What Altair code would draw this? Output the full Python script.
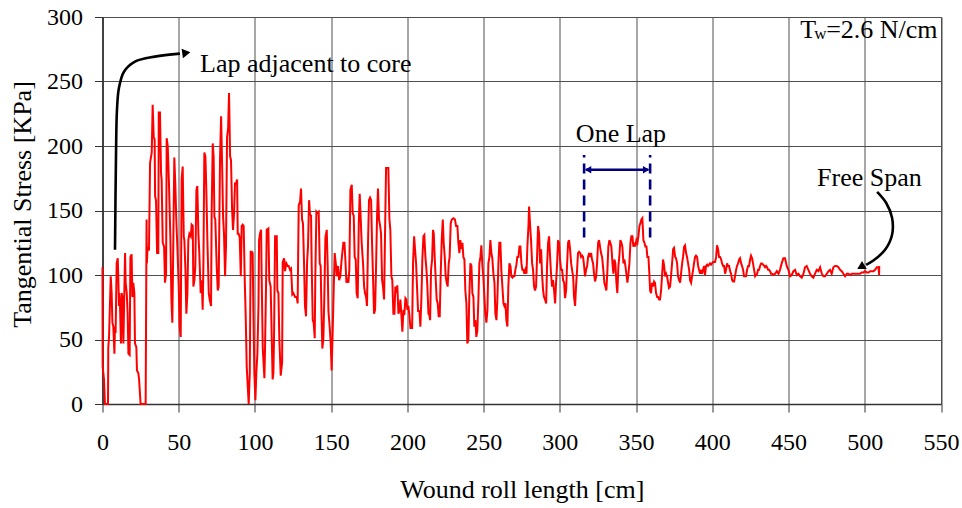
import altair as alt
import pandas as pd

# Tangential stress along the wound roll: (length [cm], stress [KPa]) pairs
STRESS_0_104 = [
    (0.0, 106), (0.1, 29), (1.0, 19), (1.6, 0), (3.6, 0), (3.8, 44), (4.3, 52), (5.4, 99),
    (6.0, 86), (6.5, 63), (7.1, 60), (7.8, 39), (8.2, 60), (8.6, 55), (9.3, 109), (10.0, 113),
    (10.4, 96), (10.8, 76), (11.0, 86), (11.5, 76), (12.1, 47), (12.6, 86), (13.0, 83),
    (13.7, 47), (14.3, 86), (14.8, 117), (15.2, 94), (15.9, 86), (16.5, 70), (17.0, 39),
    (17.8, 38), (18.3, 114), (19.1, 116), (19.6, 83), (20.2, 94), (20.9, 86), (21.3, 47),
    (22.2, 44), (22.6, 26), (23.5, 24), (24.0, 19), (25.0, 0), (28.3, 0), (28.9, 143),
    (29.1, 109), (29.6, 122), (30.5, 119), (31.2, 187), (32.3, 195), (32.9, 232), (33.6, 207),
    (34.2, 205), (34.5, 161), (35.1, 158), (35.8, 117), (36.6, 117), (36.9, 226), (37.7, 226),
    (38.4, 179), (38.8, 174), (39.5, 125), (40.4, 122), (41.0, 94), (41.7, 101), (42.1, 206),
    (42.8, 200), (43.6, 171), (44.5, 130), (45.2, 81), (45.8, 63), (46.5, 130), (47.1, 191),
    (47.8, 169), (48.4, 143), (49.1, 122), (50.0, 91), (50.6, 60), (51.3, 52), (51.9, 174),
    (52.6, 184), (53.3, 130), (53.7, 127), (54.4, 104), (55.0, 70), (55.7, 86), (56.3, 127),
    (57.0, 132), (57.9, 130), (58.5, 139), (59.2, 138), (59.6, 91), (60.3, 96), (60.9, 107),
    (61.6, 166), (62.2, 169), (62.9, 132), (63.5, 117), (64.4, 86), (65.1, 96), (65.7, 73),
    (66.2, 109), (66.8, 195), (67.5, 192), (68.1, 166), (68.8, 127), (69.7, 86), (70.3, 81),
    (71.2, 76), (71.6, 148), (72.3, 202), (72.9, 192), (73.4, 145), (74.0, 143), (74.9, 107),
    (75.6, 88), (76.2, 91), (77.1, 191), (77.8, 223), (78.4, 189), (79.1, 145), (79.7, 132),
    (80.4, 99), (81.0, 122), (81.7, 207), (82.4, 214), (83.0, 241), (83.7, 192), (84.3, 189),
    (85.0, 151), (85.6, 135), (86.3, 148), (86.9, 171), (87.6, 171), (88.3, 174), (88.7, 132),
    (89.3, 132), (90.0, 129), (90.7, 99), (91.3, 138), (92.0, 139), (92.6, 138), (93.3, 96),
    (93.9, 70), (94.6, 29), (95.3, 13), (95.9, 0), (96.6, 24), (97.2, 118), (97.9, 118),
    (98.5, 117), (99.0, 70), (99.6, 24), (100.3, 3), (100.9, 24), (101.6, 39), (102.3, 76),
    (102.7, 127), (103.3, 132), (104.0, 135),
]

STRESS_104_217 = [
    (104.4, 99), (105.1, 44), (106.2, 20), (106.6, 42), (107.3, 94), (107.7, 135), (108.8, 136),
    (109.4, 96), (110.3, 91), (111.0, 52), (111.6, 19), (112.1, 24), (112.5, 50), (113.2, 130),
    (114.3, 130), (114.7, 88), (115.4, 86), (116.0, 50), (116.9, 22), (117.8, 32), (118.2, 110),
    (119.1, 113), (119.7, 103), (120.6, 109), (121.5, 107), (122.1, 107), (123.0, 104),
    (123.7, 105), (124.5, 85), (125.2, 86), (126.3, 83), (127.4, 83), (128.0, 78), (128.7, 154),
    (129.6, 157), (130.2, 167), (130.9, 143), (131.5, 140), (132.2, 109), (132.8, 76),
    (133.5, 68), (134.2, 110), (134.8, 122), (135.5, 158), (136.1, 147), (136.8, 146),
    (137.2, 109), (137.9, 65), (138.5, 63), (139.2, 51), (139.6, 99), (140.3, 149), (140.9, 148),
    (141.8, 149), (142.5, 109), (143.1, 107), (143.6, 73), (144.2, 43), (144.9, 51), (145.5, 83),
    (146.2, 129), (147.1, 135), (147.7, 107), (148.2, 72), (149.0, 60), (149.7, 47), (150.3, 26),
    (151.0, 57), (151.7, 91), (152.3, 117), (153.2, 107), (153.6, 99), (154.5, 107), (155.2, 96),
    (156.0, 99), (156.7, 110), (157.3, 117), (158.0, 125), (158.7, 125), (159.3, 112),
    (160.0, 94), (160.6, 96), (161.3, 94), (161.9, 104), (162.6, 166), (163.5, 170), (164.1, 148),
    (164.8, 146), (165.4, 114), (166.1, 112), (166.7, 86), (167.4, 82), (168.1, 140),
    (168.7, 163), (169.4, 143), (170.0, 125), (170.9, 109), (171.6, 91), (172.2, 86), (172.9, 83),
    (173.5, 76), (174.2, 127), (174.8, 158), (175.5, 160), (176.2, 158), (176.8, 125),
    (177.5, 96), (178.1, 70), (178.8, 73), (179.4, 104), (180.1, 146), (180.7, 167), (181.4, 143),
    (182.1, 138), (182.7, 132), (183.4, 96), (184.0, 91), (184.7, 81), (185.3, 130), (186.0, 183),
    (187.5, 183), (188.2, 143), (188.8, 135), (189.5, 99), (190.1, 96), (190.8, 70), (191.5, 70),
    (192.1, 91), (192.8, 86), (193.4, 92), (194.1, 70), (194.7, 72), (195.4, 81), (196.1, 68),
    (196.7, 56), (197.4, 73), (198.0, 69), (198.7, 82), (199.3, 81), (200.0, 73), (200.6, 76),
    (201.3, 69), (202.0, 59), (203.1, 59), (203.7, 109), (204.4, 130), (205.0, 120), (205.7, 109),
    (206.3, 91), (207.0, 72), (207.9, 72), (208.5, 60), (209.2, 83), (209.8, 112), (210.5, 130),
    (211.1, 131), (211.8, 114), (212.5, 104), (213.1, 91), (213.8, 70), (214.4, 69), (214.9, 65),
    (215.5, 104), (216.2, 112), (216.8, 135),
]

STRESS_217_326 = [
    (217.3, 132), (217.9, 114), (218.6, 96), (219.2, 81), (219.9, 78), (220.5, 68), (221.2, 68),
    (221.8, 99), (222.5, 127), (223.2, 143), (223.8, 125), (224.5, 114), (225.1, 99), (225.8, 94),
    (226.4, 91), (227.1, 109), (227.7, 114), (228.4, 140), (229.1, 143), (230.2, 144),
    (231.2, 143), (231.9, 138), (232.8, 138), (233.4, 125), (234.1, 117), (234.7, 127),
    (235.4, 120), (236.1, 125), (236.7, 114), (237.4, 112), (238.0, 88), (238.7, 78), (239.3, 47),
    (240.0, 50), (240.6, 83), (241.3, 109), (242.0, 107), (242.6, 86), (243.3, 83), (243.9, 60),
    (244.6, 65), (245.2, 52), (245.9, 57), (246.6, 83), (247.2, 109), (247.9, 114), (248.5, 123),
    (249.2, 107), (249.8, 99), (250.5, 83), (251.1, 70), (251.8, 63), (252.5, 73), (253.1, 109),
    (253.8, 114), (254.4, 127), (255.1, 117), (255.7, 113), (256.4, 101), (257.1, 94),
    (257.7, 70), (258.4, 65), (259.0, 81), (259.7, 109), (260.3, 125), (261.0, 125), (261.6, 104),
    (262.3, 91), (263.0, 78), (263.6, 76), (264.3, 78), (264.9, 65), (265.6, 60), (266.2, 91),
    (266.9, 109), (267.6, 107), (268.2, 99), (268.9, 98), (269.5, 99), (270.2, 99), (270.8, 104),
    (271.5, 108), (272.1, 114), (272.8, 114), (273.5, 122), (274.1, 122), (274.8, 109),
    (275.4, 104), (276.1, 104), (276.7, 101), (277.4, 104), (278.1, 101), (278.7, 122),
    (279.4, 138), (279.8, 153), (280.5, 138), (281.1, 127), (281.8, 109), (282.4, 104),
    (283.1, 91), (283.7, 88), (284.4, 91), (285.0, 112), (285.7, 138), (286.4, 132), (287.0, 109),
    (287.7, 120), (288.3, 101), (289.0, 88), (289.6, 83), (290.3, 81), (291.0, 78), (291.6, 107),
    (292.3, 125), (292.9, 130), (293.6, 114), (294.2, 101), (294.9, 91), (295.5, 96), (296.2, 88),
    (296.9, 78), (297.5, 94), (298.2, 109), (298.8, 127), (299.5, 125), (300.1, 112),
    (300.8, 104), (301.5, 104), (302.1, 96), (302.8, 94), (303.4, 82), (304.1, 88), (304.7, 107),
    (305.4, 125), (306.0, 127), (306.7, 120), (307.4, 109), (308.0, 104), (308.7, 99), (309.3, 83),
    (310.0, 76), (310.6, 91), (311.3, 104), (311.9, 117), (312.6, 118), (313.3, 117),
    (313.9, 114), (314.6, 115), (315.2, 114), (315.9, 107), (316.5, 99), (317.2, 104),
    (317.9, 107), (318.5, 114), (319.2, 117), (319.8, 114), (320.5, 117), (321.1, 112),
    (321.8, 109), (322.4, 101), (323.1, 95), (323.8, 99), (324.4, 109), (325.1, 125), (325.7, 127),
]

STRESS_326_440 = [
    (327.0, 117), (327.7, 114), (328.5, 104), (329.2, 94), (329.9, 91), (330.5, 88), (331.2, 104),
    (331.8, 122), (332.5, 127), (333.1, 125), (333.8, 122), (334.5, 109), (335.1, 101),
    (335.8, 112), (336.4, 109), (337.1, 94), (337.7, 86), (338.4, 107), (339.0, 114), (339.7, 127),
    (340.4, 125), (341.0, 122), (341.7, 109), (342.3, 112), (343.0, 107), (343.6, 101),
    (344.3, 94), (345.0, 101), (345.6, 109), (346.3, 125), (346.9, 130), (347.6, 130),
    (348.2, 122), (348.9, 125), (349.5, 122), (350.2, 127), (350.9, 125), (351.5, 130),
    (352.2, 138), (352.8, 140), (353.5, 143), (354.1, 144), (354.8, 127), (355.5, 125),
    (356.1, 122), (356.8, 122), (357.4, 114), (358.1, 114), (358.7, 101), (359.2, 88), (359.8, 86),
    (360.5, 94), (361.1, 91), (361.8, 95), (362.4, 94), (363.1, 86), (363.8, 83), (364.4, 83),
    (365.1, 81), (365.7, 81), (366.4, 88), (367.0, 99), (367.7, 112), (368.4, 107), (369.0, 99),
    (369.7, 101), (370.3, 99), (371.0, 94), (371.6, 90), (372.3, 91), (372.9, 99), (373.6, 109),
    (374.3, 120), (374.9, 121), (375.6, 114), (376.2, 113), (376.9, 109), (377.5, 99), (378.2, 96),
    (378.9, 94), (379.5, 101), (380.2, 109), (380.8, 114), (381.5, 122), (382.1, 123),
    (382.8, 117), (383.4, 114), (384.1, 109), (384.8, 104), (385.4, 96), (386.1, 94), (386.7, 99),
    (387.4, 104), (388.0, 109), (388.7, 114), (389.3, 115), (390.0, 114), (390.7, 107),
    (391.3, 104), (392.0, 101), (392.6, 104), (393.3, 101), (393.9, 104), (394.6, 107),
    (395.2, 100), (395.9, 107), (396.6, 108), (397.2, 107), (397.9, 108), (398.5, 109),
    (399.2, 108), (399.8, 109), (400.5, 110), (401.2, 110), (401.8, 110), (402.5, 114),
    (403.1, 123), (403.8, 120), (404.4, 114), (405.1, 114), (405.8, 112), (406.4, 109),
    (407.1, 107), (407.7, 107), (408.4, 101), (409.0, 104), (409.7, 109), (410.3, 107),
    (411.0, 107), (411.7, 103), (412.3, 101), (413.0, 96), (413.6, 95), (414.3, 95), (414.9, 99),
    (415.6, 104), (416.2, 107), (416.9, 109), (417.6, 112), (418.2, 113), (418.9, 109),
    (419.5, 107), (420.2, 104), (420.8, 99), (421.5, 99), (422.1, 99), (422.8, 104), (423.5, 107),
    (424.1, 107), (424.8, 112), (425.4, 115), (426.1, 113), (426.7, 109), (427.4, 104),
    (428.1, 99), (428.7, 100), (429.4, 101), (430.0, 104), (430.7, 104), (431.3, 107),
    (432.0, 109), (432.6, 109), (433.3, 108), (434.0, 107), (434.6, 106), (435.3, 107),
    (435.9, 106), (436.6, 104), (437.2, 104), (437.9, 103), (438.5, 101), (439.2, 101),
    (439.9, 100),
]

STRESS_440_510 = [
    (441.2, 101), (442.3, 103), (443.4, 101), (444.4, 104), (445.5, 109), (446.6, 113),
    (447.7, 113), (448.8, 107), (449.9, 104), (451.0, 99), (452.1, 100), (453.2, 103),
    (454.3, 104), (455.4, 100), (456.5, 101), (457.6, 99), (458.7, 98), (459.8, 101), (460.8, 106),
    (461.9, 107), (463.0, 104), (464.1, 101), (465.2, 99), (466.3, 98), (467.4, 101), (468.5, 104),
    (469.6, 103), (470.7, 106), (471.8, 101), (472.9, 99), (474.0, 99), (475.1, 101), (476.2, 103),
    (477.2, 104), (478.3, 101), (479.4, 106), (480.5, 107), (481.6, 107), (482.7, 106),
    (483.8, 104), (484.9, 103), (486.0, 101), (487.1, 99), (488.2, 101), (489.3, 101),
    (490.4, 100), (491.5, 101), (492.6, 101), (493.6, 101), (494.7, 101), (495.8, 101),
    (496.9, 101), (498.0, 102), (499.1, 102), (500.2, 103), (501.3, 102), (502.4, 102),
    (503.5, 103), (504.6, 103), (505.7, 103), (506.8, 104), (507.9, 106), (509.0, 106),
    (509.4, 100), (509.5, 107),
]

# Annotation geometry, in chart units (cm, KPa)
CORE_ARROW = [(8.2, 119.5), (8.9, 197.1), (9.5, 228.1), (10.8, 245.2), (14.1, 257.6),
              (21.3, 265.4), (34.4, 269.3), (50.8, 271.6)]
CORE_HEAD = (54.1, 272.0)
SPAN_ARROW = [(508.1, 164.5), (514.0, 156.0), (517.9, 144.3), (517.9, 131.2),
              (513.3, 119.5), (505.4, 111.0), (500.9, 107.9)]
SPAN_HEAD = (498.2, 106.7)
LAP_BOUNDS = [315.9, 359.2]
LAP_SPAN_Y = (129, 193)
LAP_ARROW_Y = 181.6

FONT = "Liberation Serif"
RED = "#ff0000"
NAVY = "#000080"
GRID = "#4f4f4f"

rows = []
for seg in (STRESS_0_104, STRESS_104_217, STRESS_217_326, STRESS_326_440, STRESS_440_510):
    rows.extend(seg)
stress = pd.DataFrame(rows, columns=["length", "stress"])
stress["order"] = range(len(stress))


def path(points):
    df = pd.DataFrame(points, columns=["length", "stress"])
    df["order"] = range(len(df))
    return df


x_scale = alt.Scale(domain=[0, 550], nice=False, zero=False)
y_scale = alt.Scale(domain=[0, 300], nice=False)

x_axis = alt.Axis(
    values=list(range(0, 551, 50)), grid=True, gridColor=GRID, gridWidth=1,
    domainColor="#333333", domainWidth=1.6, tickColor="#333333", tickSize=8,
    labelFont=FONT, labelFontSize=24, labelColor="black", labelPadding=18,
    labelFlush=False, labelOverlap=False,
    titleFont=FONT, titleFontSize=26, titleFontWeight="normal", titleColor="black",
    titleBaseline="alphabetic", titleY=93,
)
y_axis = alt.Axis(
    values=list(range(0, 301, 50)), grid=True, gridColor=GRID, gridWidth=1,
    domainColor="#333333", domainWidth=1.6, tickColor="#333333", tickSize=8,
    labelFont=FONT, labelFontSize=24, labelColor="black", labelPadding=12,
    labelFlush=False, labelOverlap=False,
    titleFont=FONT, titleFontSize=26, titleFontWeight="normal", titleColor="black",
    titleBaseline="alphabetic", titleX=-72, titleY=187,
)

X = alt.X("length:Q", scale=x_scale, axis=x_axis, title="Wound roll length [cm]")
Y = alt.Y("stress:Q", scale=y_scale, axis=y_axis, title="Tangential Stress [KPa]")

stress_line = alt.Chart(stress).mark_line(color=RED, strokeWidth=2).encode(
    x=X, y=Y, order="order:Q"
)

core_arrow = alt.Chart(path(CORE_ARROW)).mark_line(
    color="black", strokeWidth=2.6, interpolate="catmull-rom"
).encode(x=X, y=Y, order="order:Q")
core_head = alt.Chart(path([CORE_HEAD])).mark_point(
    shape="triangle", angle=82, filled=True, color="black", size=90, opacity=1
).encode(x=X, y=Y)

span_arrow = alt.Chart(path(SPAN_ARROW)).mark_line(
    color="black", strokeWidth=2.6, interpolate="catmull-rom"
).encode(x=X, y=Y, order="order:Q")
span_head = alt.Chart(path([SPAN_HEAD])).mark_point(
    shape="triangle", angle=240, filled=True, color="black", size=90, opacity=1
).encode(x=X, y=Y)

lap_bounds = pd.DataFrame({
    "length": LAP_BOUNDS,
    "stress": [LAP_SPAN_Y[0]] * 2,
    "stress2": [LAP_SPAN_Y[1]] * 2,
})
lap_dashes = alt.Chart(lap_bounds).mark_rule(
    color=NAVY, strokeWidth=2.6, strokeDash=[10, 6]
).encode(x=X, y=Y, y2="stress2:Q")

lap_arrow_df = pd.DataFrame({
    "length": [LAP_BOUNDS[0] + 1.2, LAP_BOUNDS[1] - 1.2],
    "stress": [LAP_ARROW_Y] * 2,
    "order": [0, 1],
})
lap_arrow = alt.Chart(lap_arrow_df).mark_line(color=NAVY, strokeWidth=2.4).encode(
    x=X, y=Y, order="order:Q"
)
lap_heads_df = pd.DataFrame({
    "length": [LAP_BOUNDS[0] + 2.6, LAP_BOUNDS[1] - 2.6],
    "stress": [LAP_ARROW_Y] * 2,
    "dir": ["triangle-left", "triangle-right"],
})
lap_heads = alt.Chart(lap_heads_df).mark_point(
    filled=True, color=NAVY, size=55, opacity=1
).encode(
    x=X, y=Y,
    shape=alt.Shape("dir:N", scale=alt.Scale(domain=["triangle-left", "triangle-right"],
                                             range=["triangle-left", "triangle-right"]),
                    legend=None),
)

labels_df = pd.DataFrame({
    "length": [64.0, 340.1, 468.7],
    "stress": [257.2, 203.3, 169.2],
    "label": ["Lap adjacent to core", "One Lap", "Free Span"],
    "anchor": ["left", "center", "left"],
})


def note(df, align, size=26, dx=0, dy=0):
    return alt.Chart(df).mark_text(
        font=FONT, fontSize=size, color="black", align=align, baseline="alphabetic",
        dx=dx, dy=dy,
    ).encode(x=X, y=Y, text="label:N")


notes = [
    note(labels_df[labels_df.anchor == "left"], "left"),
    note(labels_df[labels_df.anchor == "center"], "center"),
]

tension_pos = pd.DataFrame({"length": [457.6], "stress": [283.8]})
tension = [
    note(tension_pos.assign(label="T"), "left", 26),
    note(tension_pos.assign(label="w"), "left", 17, dx=14, dy=1),
    note(tension_pos.assign(label="=2.6 N/cm"), "left", 26, dx=26),
]

chart = alt.layer(
    stress_line, core_arrow, core_head, span_arrow, span_head,
    lap_dashes, lap_arrow, lap_heads, *notes, *tension,
).properties(
    width=838.5, height=387,
    autosize=alt.AutoSizeParams(type="none"),
    padding={"left": 102.5, "top": 17, "right": 21, "bottom": 104},
    background="white",
).configure_view(stroke=GRID, strokeWidth=1)

chart.save("out.html", embed_options={"renderer": "svg", "actions": False})
